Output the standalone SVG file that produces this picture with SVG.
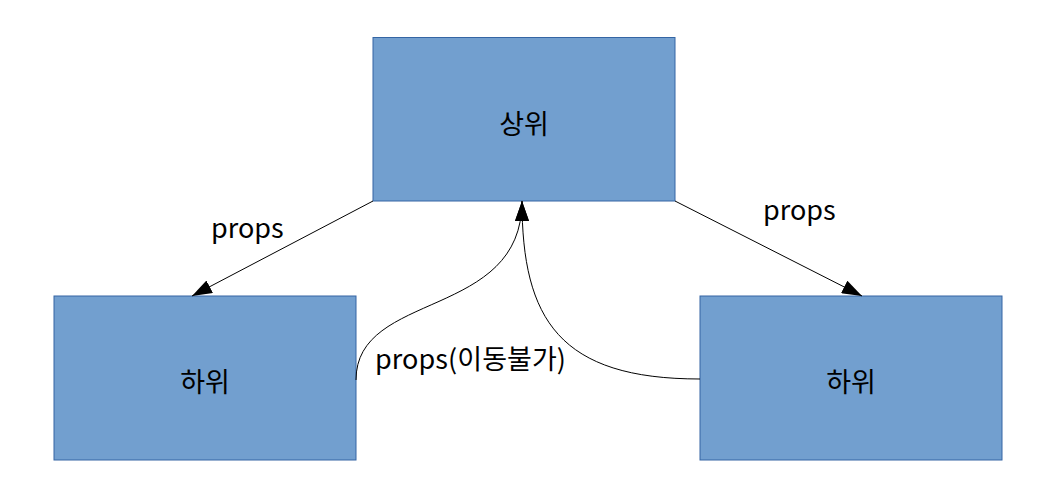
<svg xmlns="http://www.w3.org/2000/svg" width="1051" height="478" viewBox="0 0 1051 478">
<defs>
<style>
.box{fill:#729fcf;stroke:#3465a4;stroke-width:1}
.lbl{font-family:"Noto Sans CJK KR","Noto Sans",sans-serif;font-size:27px;fill:#000}
.c{fill:none;stroke:#000;stroke-width:1}
</style>
<marker id="ah" viewBox="0 0 20 14" refX="20" refY="7" markerWidth="20" markerHeight="14" markerUnits="userSpaceOnUse" orient="auto">
<path d="M0,0 L20,7 L0,14 Z" fill="#000"/>
</marker>
</defs>
<rect width="1051" height="478" fill="#fff"/>
<g id="top"><rect class="box" x="373" y="37.5" width="302" height="163.5"/><text class="lbl" x="524" y="134" text-anchor="middle">상위</text></g>
<g id="left"><rect class="box" x="54" y="296" width="302" height="164"/><text class="lbl" x="205" y="392" text-anchor="middle">하위</text></g>
<g id="right"><rect class="box" x="700" y="296" width="302" height="164"/><text class="lbl" x="851" y="392" text-anchor="middle">하위</text></g>
<g id="connectors">
<line class="c" x1="373" y1="201" x2="192" y2="296" marker-end="url(#ah)"/>
<line class="c" x1="675" y1="201" x2="862" y2="296" marker-end="url(#ah)"/>
<path class="c" d="M356,380 C356,290 522,320 522,201" marker-end="url(#ah)"/>
<path class="c" d="M700,379 C560,379 522,320 522,201" marker-end="url(#ah)"/>
<text class="lbl" x="211" y="238">props</text>
<text class="lbl" x="763" y="220">props</text>
<text class="lbl" x="375" y="369" textLength="191">props(이동불가)</text>
</g>
</svg>
